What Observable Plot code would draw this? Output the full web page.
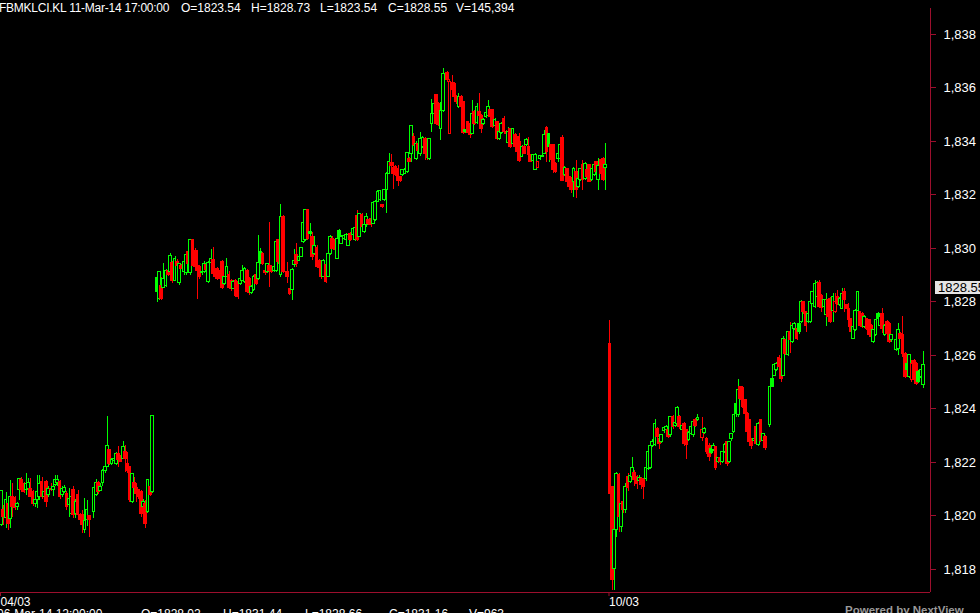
<!DOCTYPE html>
<html><head><meta charset="utf-8">
<script src="https://cdn.jsdelivr.net/npm/d3@7"></script>
<script src="https://cdn.jsdelivr.net/npm/@observablehq/plot@0.6"></script>
<style>
html,body{margin:0;padding:0;background:#000;overflow:hidden;}
#wrap{position:relative;width:980px;height:613px;overflow:hidden;background:#000;font-family:"Liberation Sans",Arial,sans-serif;}
.t{position:absolute;color:#fff;font-size:12px;white-space:pre;line-height:14px;}
#wrap svg{position:absolute;left:0;top:0;}
</style></head><body><div id="wrap"></div>
<script>
// ---- data: 5-minute bars [open, high, low, close] ----
const barsSeg1 = [
[1819.65,1820.95,1819.60,1820.93],[1820.21,1820.40,1819.65,1819.96],[1819.94,1820.89,1819.52,1820.61],[1820.46,1820.58,1819.46,1819.71],
[1819.90,1821.33,1819.52,1820.71],[1820.71,1821.20,1819.96,1820.33],[1820.67,1820.71,1820.21,1820.30],[1820.33,1820.52,1820.21,1820.46],
[1820.98,1821.39,1820.58,1821.39],
[1821.33,1821.45,1820.89,1820.96],[1821.20,1821.27,1820.83,1820.89],[1820.96,1821.58,1820.77,1821.20],[1821.00,1821.40,1820.90,1821.22],
[1821.02,1821.39,1820.71,1820.71],[1820.89,1820.95,1820.35,1820.46],[1820.46,1820.60,1820.30,1820.58],[1820.58,1821.52,1820.27,1820.89],
[1820.71,1821.52,1820.58,1821.20],[1821.27,1821.45,1820.60,1820.71],[1820.71,1821.10,1820.64,1820.89],[1821.27,1821.33,1820.30,1820.52],
[1820.77,1821.10,1820.70,1821.02],[1821.02,1821.20,1820.90,1820.96],[1820.96,1821.33,1820.71,1821.08],[1821.14,1821.50,1821.10,1821.33],[1821.22,1821.52,1821.10,1821.36],
[1821.27,1821.33,1820.60,1820.71],[1820.77,1821.10,1820.70,1821.02],[1820.90,1821.15,1820.85,1821.05],[1820.83,1820.90,1820.20,1820.33],
[1820.40,1821.02,1819.96,1820.64],[1820.08,1820.75,1820.00,1820.71],[1820.98,1821.10,1819.90,1820.02],[1820.08,1820.60,1819.90,1820.52],
[1820.77,1820.95,1819.90,1820.02],[1820.02,1820.10,1819.75,1819.84],[1820.02,1820.21,1819.33,1819.65],[1819.46,1820.64,1819.33,1819.80],
[1819.84,1820.58,1819.59,1820.21],[1820.00,1820.00,1819.19,1819.84],[1819.63,1819.63,1819.63,1819.63],[1820.15,1821.08,1819.90,1821.05],
[1820.77,1821.36,1820.71,1821.23],[1821.23,1821.30,1820.80,1820.89],[1820.95,1821.20,1820.90,1821.10],[1821.23,1821.75,1821.10,1821.68],
[1821.70,1821.90,1821.60,1821.83],[1821.83,1823.72,1821.80,1822.60],[1822.45,1822.50,1821.90,1821.95],[1821.95,1822.15,1821.90,1822.08],
[1822.05,1822.20,1822.00,1822.14],[1821.95,1822.36,1821.90,1822.33],[1822.33,1822.58,1821.83,1822.08],[1822.20,1822.25,1822.00,1822.02],
[1822.14,1822.79,1822.10,1822.58],[1822.39,1822.64,1821.64,1822.14],[1821.93,1822.39,1821.58,1821.70],[1821.83,1821.85,1820.50,1820.58],
[1820.52,1821.60,1820.45,1821.58],[1821.23,1821.45,1821.00,1821.05],[1821.05,1821.20,1820.50,1820.83],[1820.96,1821.00,1820.60,1820.71],
[1820.89,1820.95,1819.96,1820.08],[1820.35,1820.60,1820.30,1820.52],[1820.46,1820.58,1819.52,1819.71],[1820.15,1821.36,1820.10,1821.33],
[1821.08,1821.58,1820.71,1820.77],[1820.89,1823.75,1820.85,1823.72],[1826.45,1826.45,1826.45,1826.45]
];
const barsSeg2a = [
[1828.90,1828.92,1827.99,1828.36],[1828.11,1829.15,1828.05,1829.11],[1828.61,1828.92,1828.05,1828.11],[1828.53,1829.42,1828.50,1828.86],
[1828.61,1829.20,1828.55,1829.15],[1829.15,1829.30,1828.95,1829.02],[1829.11,1829.80,1829.05,1829.73],[1829.45,1829.50,1828.70,1828.80],[1828.80,1829.70,1828.75,1829.61],
[1829.48,1829.60,1829.30,1829.36],[1828.70,1829.45,1828.60,1829.42],[1829.36,1829.40,1829.20,1829.24],[1829.11,1829.55,1829.00,1829.48],
[1829.07,1829.80,1829.00,1829.77],[1829.86,1830.00,1829.40,1829.42],[1829.07,1830.32,1829.00,1830.30],[1830.30,1830.32,1829.30,1829.36],
[1829.92,1830.00,1829.20,1829.30],[1829.36,1829.92,1828.11,1829.17],[1829.30,1829.35,1828.85,1828.92],[1829.07,1829.20,1829.00,1829.11],
[1829.11,1829.50,1829.05,1829.42],[1829.40,1829.48,1829.10,1829.20],[1828.74,1829.50,1828.70,1829.45],[1829.45,1829.95,1829.40,1829.61],[1829.57,1830.05,1829.00,1829.05],
[1829.11,1829.15,1828.85,1828.92],[1829.24,1829.30,1828.80,1828.86],[1829.14,1829.20,1828.70,1828.84],[1829.48,1829.55,1828.45,1828.53],
[1828.67,1828.95,1828.60,1828.92],[1828.92,1829.61,1828.90,1829.32],[1828.99,1829.15,1828.45,1828.53],[1828.80,1828.85,1828.40,1828.49],
[1828.49,1828.80,1828.45,1828.74],[1828.80,1828.85,1828.15,1828.24],[1828.74,1828.80,1828.10,1828.20],[1828.67,1828.90,1828.60,1828.86],
[1828.80,1829.36,1828.75,1829.17],[1828.74,1829.30,1828.70,1829.24],[1829.17,1829.20,1828.30,1828.36],[1828.86,1828.90,1828.25,1828.32],
[1828.32,1828.60,1828.28,1828.55],
[1828.43,1829.00,1828.40,1828.92],[1828.99,1829.05,1828.60,1828.67],[1828.86,1830.48,1828.80,1829.45],[1829.86,1830.00,1829.40,1829.48],
[1829.80,1829.85,1829.35,1829.42],[1829.17,1829.20,1829.00,1829.07],[1829.11,1829.45,1829.05,1829.42],[1829.36,1830.98,1828.55,1829.17],
[1829.30,1829.35,1829.05,1829.11],[1829.15,1829.35,1829.10,1829.30],[1829.17,1830.30,1829.10,1830.23],[1830.30,1830.35,1829.40,1829.48],
[1828.99,1831.64,1828.90,1831.19],[1831.19,1831.25,1829.05,1829.11],[1829.08,1829.08,1829.08,1829.08]
];
const barsSeg2b = [
[1829.12,1829.49,1828.68,1828.93],[1828.47,1828.50,1828.25,1828.31],[1828.43,1829.25,1828.06,1829.20],[1829.37,1829.95,1829.30,1829.55],
[1829.74,1830.18,1829.30,1829.43],[1829.55,1829.70,1829.50,1829.68],[1829.68,1830.05,1829.65,1830.03],[1830.24,1831.00,1830.20,1830.96],
[1830.30,1831.45,1830.25,1831.42],[1831.45,1831.47,1830.30,1830.36],[1830.61,1830.92,1830.36,1830.55],[1830.43,1830.61,1829.55,1829.68],
[1829.80,1830.43,1829.75,1830.11],[1830.03,1830.10,1829.25,1829.30],[1829.55,1829.60,1829.20,1829.28],[1829.37,1829.40,1828.85,1828.93],
[1828.95,1829.60,1828.90,1829.55],[1829.37,1829.40,1828.68,1828.74],[1828.93,1829.85,1828.90,1829.80],[1829.80,1830.50,1829.75,1830.43],
[1830.36,1830.45,1829.95,1829.99],[1830.30,1830.35,1829.90,1829.93],[1829.62,1830.40,1829.60,1830.36],[1830.67,1830.70,1830.35,1830.40],
[1830.18,1830.48,1830.15,1830.43],[1830.36,1830.52,1830.30,1830.48],[1830.30,1830.55,1830.25,1830.50],[1830.11,1830.55,1830.08,1830.52],
[1830.55,1830.60,1830.25,1830.30],[1830.49,1830.80,1830.45,1830.74],[1830.30,1830.80,1830.25,1830.77],[1831.20,1831.42,1830.25,1830.30],
[1830.43,1831.30,1830.40,1831.27],[1831.24,1831.30,1830.75,1830.80],[1830.61,1830.90,1830.55,1830.86],[1830.86,1831.30,1830.80,1831.17],
[1831.05,1831.10,1830.85,1830.92],[1831.11,1831.20,1830.80,1830.86],[1830.92,1831.75,1830.90,1831.70],[1831.05,1831.78,1831.00,1831.73],
[1831.73,1832.15,1831.70,1832.11],[1831.80,1832.18,1831.75,1832.14],[1831.61,1831.65,1831.50,1831.55],[1831.80,1832.20,1831.75,1832.17],
[1832.17,1832.85,1831.30,1832.79],[1832.79,1833.56,1832.75,1833.23],[1833.19,1833.50,1833.00,1833.07],[1833.00,1833.20,1832.20,1832.79],
[1833.04,1833.10,1832.70,1832.75],[1832.98,1833.10,1832.30,1832.54],[1832.67,1832.70,1832.45,1832.52],[1832.73,1832.95,1832.70,1832.92],
[1832.80,1833.00,1832.75,1832.95],[1832.85,1833.60,1832.80,1833.56],[1833.35,1833.40,1833.20,1833.23],[1833.54,1834.60,1833.20,1834.56]
];
const barsSeg2c = [
[1834.16,1834.30,1833.80,1833.85],[1833.35,1834.00,1833.29,1833.90],[1833.90,1834.05,1833.60,1833.66],[1833.54,1834.35,1833.42,1834.10],[1833.79,1834.20,1833.75,1834.12],
[1834.10,1834.15,1833.30,1833.54],[1833.54,1833.70,1833.28,1833.40],[1833.35,1834.10,1833.30,1834.08],[1834.66,1835.56,1834.35,1835.04],[1835.04,1835.45,1835.00,1835.41],
[1835.72,1835.75,1834.60,1834.66],[1835.41,1835.45,1834.55,1834.62],[1834.48,1835.47,1834.04,1835.12],[1835.12,1836.72,1835.10,1836.53],
[1836.58,1836.58,1836.58,1836.58],[1836.55,1836.60,1836.20,1836.30],[1834.29,1836.30,1834.25,1836.24],[1836.18,1836.47,1835.85,1835.91],[1836.16,1836.20,1835.60,1835.68],
[1835.62,1835.70,1835.40,1835.47],[1835.29,1835.78,1835.25,1835.66],[1835.66,1835.70,1835.25,1835.29],[1835.47,1835.50,1834.25,1834.31],
[1834.41,1834.45,1834.30,1834.35],[1834.72,1834.75,1834.30,1834.33],[1834.66,1834.70,1834.10,1834.23],[1834.29,1835.53,1834.25,1835.01],
[1835.10,1835.15,1834.60,1834.66],[1834.68,1835.41,1834.65,1835.29],[1835.10,1835.78,1834.72,1834.97],[1834.97,1835.00,1834.30,1834.48],
[1834.66,1834.85,1834.60,1834.81],[1834.91,1835.10,1834.85,1835.06],[1834.97,1835.53,1834.90,1835.29],[1835.16,1835.20,1834.85,1834.91],
[1835.16,1835.20,1834.50,1834.54],[1834.56,1834.85,1834.50,1834.79],[1834.72,1834.75,1834.05,1834.10],[1834.10,1834.40,1834.05,1834.35],
[1834.31,1834.70,1834.25,1834.66]
];
const barsSeg2d = [
[1834.85,1834.94,1834.30,1834.35],[1834.35,1834.40,1834.25,1834.29],[1833.94,1834.51,1833.90,1834.35],[1834.47,1834.50,1833.75,1833.79],
[1833.91,1834.50,1833.85,1834.47],[1834.23,1834.30,1833.75,1833.79],[1834.16,1834.20,1833.55,1833.60],[1833.98,1834.29,1833.20,1833.27],
[1833.42,1833.85,1833.40,1833.79],[1833.81,1833.85,1833.50,1833.54],[1833.85,1834.10,1833.80,1834.04],[1833.79,1834.16,1833.23,1833.48],
[1833.48,1833.50,1833.20,1833.23],[1833.27,1833.52,1833.25,1833.48],[1832.92,1833.55,1832.90,1833.50],[1833.02,1833.25,1833.00,1833.23],
[1833.35,1833.48,1833.30,1833.44],[1833.42,1833.50,1833.40,1833.46],[1833.54,1834.41,1833.50,1834.25],[1834.51,1834.55,1833.23,1833.60],
[1834.29,1834.30,1833.23,1833.81],[1833.85,1833.90,1833.25,1833.29],[1833.85,1833.90,1832.79,1832.92],[1833.17,1833.20,1832.80,1832.86],
[1833.35,1833.85,1833.23,1833.54],[1833.35,1833.90,1833.30,1833.88],[1834.14,1834.23,1832.50,1832.52],[1832.73,1833.05,1832.70,1833.02],
[1832.98,1833.00,1832.45,1832.48],[1832.67,1832.70,1832.25,1832.29],[1832.61,1832.65,1832.05,1832.17],[1832.48,1833.04,1831.92,1832.98],
[1832.86,1833.29,1831.86,1832.17],[1832.29,1832.65,1832.25,1832.61],[1832.55,1833.00,1832.50,1832.98],[1833.11,1833.29,1832.17,1832.55],
[1832.61,1833.20,1832.55,1833.17],[1832.92,1832.95,1832.60,1832.67],[1833.11,1833.15,1832.45,1832.48],[1832.55,1833.00,1832.50,1832.98],
[1832.73,1833.15,1832.70,1833.11],[1833.23,1833.25,1832.80,1832.86],[1832.57,1833.35,1832.17,1833.07],[1833.29,1833.30,1832.75,1832.79],
[1833.35,1833.40,1832.50,1832.55],[1833.02,1833.91,1832.17,1833.11],[1832.27,1832.27,1832.27,1832.27]
];
const barsSeg3a = [
[1826.44,1827.31,1820.80,1820.83],[1821.07,1821.10,1817.20,1817.59],[1818.03,1819.50,1817.20,1819.46],[1819.46,1821.62,1819.20,1821.58],
[1821.54,1821.60,1819.40,1819.96],[1819.58,1820.50,1819.40,1820.45],[1820.52,1820.60,1820.10,1820.21],[1820.21,1821.20,1820.10,1821.10],
[1821.45,1821.60,1820.90,1821.05],[1821.26,1821.55,1821.20,1821.49],[1821.45,1822.17,1821.40,1821.80],[1821.60,1821.70,1821.10,1821.33],
[1821.45,1821.50,1821.00,1821.20],[1821.30,1821.50,1821.25,1821.43],[1821.38,1821.45,1821.00,1821.14],[1821.38,1821.42,1820.60,1821.10],
[1821.38,1821.85,1821.30,1821.80],[1821.76,1822.45,1821.70,1822.38],[1821.80,1822.65,1821.75,1822.60],[1822.60,1822.85,1822.55,1822.76],
[1822.67,1823.60,1822.60,1823.42],[1823.26,1823.30,1822.70,1822.95],[1822.88,1822.92,1822.50,1822.70],[1822.76,1823.05,1822.70,1823.01],
[1823.17,1823.35,1823.10,1823.30],[1823.20,1823.40,1823.15,1823.32],[1823.20,1823.25,1822.90,1822.95],[1823.01,1823.72,1822.95,1823.69],
[1823.69,1823.75,1823.25,1823.32],[1823.35,1823.55,1823.30,1823.47],[1823.45,1824.10,1823.40,1824.04],[1823.69,1823.75,1823.25,1823.32],
[1823.20,1823.40,1823.15,1823.36],[1823.45,1823.50,1822.60,1822.70],[1823.20,1823.25,1822.10,1822.67],[1822.85,1823.15,1822.80,1823.10],
[1823.07,1823.40,1823.00,1823.32],[1823.01,1823.55,1822.95,1823.51],[1823.60,1823.65,1823.30,1823.35],[1823.60,1823.80,1823.55,1823.67],
[1823.32,1823.32,1823.32,1823.32],[1822.92,1823.70,1822.80,1823.22],[1823.10,1823.30,1823.05,1823.26],[1822.88,1822.95,1822.30,1822.38],
[1822.63,1822.70,1822.05,1822.20],[1822.49,1822.55,1822.30,1822.35],[1822.45,1822.70,1822.40,1822.63],[1822.57,1822.60,1821.70,1821.80],
[1822.01,1822.20,1821.95,1822.17],[1822.17,1822.25,1821.90,1822.00],[1822.01,1822.42,1821.95,1822.38],[1822.38,1822.72,1822.35,1822.67],[1822.76,1822.80,1821.85,1821.95],
[1822.02,1822.80,1821.98,1822.76],
[1822.89,1823.10,1822.80,1823.07],[1823.14,1823.80,1823.10,1823.76],[1824.19,1824.20,1823.70,1823.80],[1823.76,1825.09,1823.70,1824.72],
[1824.82,1824.85,1824.30,1824.38],[1824.79,1824.84,1824.00,1824.07],[1824.32,1824.35,1823.75,1823.82],[1823.82,1823.85,1823.10,1823.14],
[1823.57,1823.60,1822.60,1822.76],[1822.76,1822.90,1822.50,1822.60],[1822.82,1822.95,1822.75,1822.89],[1823.32,1823.35,1822.65,1822.70],[1822.64,1823.50,1822.60,1823.45],
[1823.57,1823.60,1822.75,1822.82],[1822.82,1823.10,1822.78,1823.05],[1822.95,1823.00,1822.45,1822.55],[1822.20,1822.20,1822.20,1822.20]
];
const barsSeg3b = [
[1823.40,1824.85,1823.30,1824.82],[1825.13,1825.20,1824.80,1824.84],[1825.25,1825.66,1825.20,1825.63],[1825.44,1825.75,1825.40,1825.69],
[1825.91,1826.00,1825.40,1825.57],[1825.88,1825.92,1825.00,1825.13],[1825.25,1826.70,1825.20,1826.63],[1826.56,1826.60,1826.00,1826.06],
[1826.00,1826.90,1825.95,1826.87],[1826.87,1827.25,1826.06,1826.56],[1826.50,1827.15,1826.45,1827.12],[1827.00,1827.25,1826.95,1827.19],
[1827.00,1827.05,1826.55,1826.63],[1827.19,1827.22,1826.80,1826.87],
[1827.25,1828.06,1827.20,1827.99],[1827.99,1828.02,1827.55,1827.62],[1827.62,1827.65,1826.87,1827.12],[1827.25,1827.60,1827.20,1827.56],
[1827.25,1828.02,1827.20,1827.99],[1827.93,1828.40,1827.90,1828.37],[1827.81,1828.80,1827.74,1828.68],[1828.18,1828.75,1828.15,1828.71],
[1828.71,1828.80,1827.75,1827.81],[1828.24,1828.28,1827.62,1827.78],[1827.81,1828.10,1827.78,1828.06],[1827.50,1828.31,1827.10,1828.08],
[1828.06,1828.10,1827.40,1827.44],[1828.12,1828.15,1827.20,1827.25],[1827.68,1828.31,1827.25,1828.18],[1827.62,1828.31,1827.58,1827.99],
[1828.18,1828.43,1827.87,1827.93],[1827.87,1828.15,1827.84,1828.12],[1827.74,1828.49,1827.70,1828.31],
[1828.37,1828.49,1827.62,1828.06],[1827.87,1827.92,1827.70,1827.74],[1827.74,1827.93,1827.06,1827.31],
[1827.37,1827.40,1826.80,1826.87],[1826.63,1827.10,1826.60,1827.06],[1826.94,1827.72,1826.90,1827.68],[1827.68,1828.40,1827.65,1828.37],
[1827.62,1827.65,1827.05,1827.12],[1827.56,1827.60,1827.00,1827.06],[1827.06,1827.48,1827.02,1827.44],[1827.37,1827.40,1826.95,1827.00],
[1827.31,1827.35,1826.70,1826.75],[1827.12,1827.15,1826.56,1826.69],[1826.50,1826.98,1826.45,1826.94],[1826.75,1827.35,1826.70,1827.31],
[1827.56,1827.60,1827.30,1827.37],[1827.12,1827.48,1827.08,1827.44],[1827.56,1827.74,1826.81,1827.00],
[1826.75,1827.15,1826.70,1827.12],[1827.25,1827.30,1826.75,1826.81],[1827.19,1827.22,1826.45,1826.50],[1826.56,1826.80,1826.50,1826.75],
[1826.13,1826.13,1826.13,1826.13],[1826.19,1826.60,1826.15,1826.56],[1826.25,1827.19,1826.00,1826.94],[1826.81,1826.85,1826.60,1826.63],
[1826.75,1827.44,1825.94,1826.06],[1826.06,1826.10,1825.15,1825.19],[1825.69,1825.72,1825.40,1825.44],[1825.19,1826.05,1825.15,1826.00],
[1825.07,1825.81,1825.00,1825.69],[1825.81,1825.85,1824.95,1825.07],[1825.69,1825.72,1824.88,1824.94],[1825.38,1825.42,1824.95,1825.00],
[1825.19,1825.48,1825.15,1825.44],[1824.88,1826.13,1824.76,1825.63],[1828.55,1828.55,1828.55,1828.55]
];
const dateLabels = ["04/03", "10/03"];
const yTicks = [1818, 1820, 1822, 1824, 1826, 1828, 1830, 1832, 1834, 1836, 1838];
const headerTitle = "FBMKLCI.KL 11-Mar-14 17:00:00";
const headerFields = ["O=1823.54", "H=1828.73", "L=1823.54", "C=1828.55", "V=145,394"];
const hoverTitle = "06-Mar-14 12:00:00";
const hoverFields = ["O=1828.02", "H=1831.44", "L=1828.66", "C=1831.16", "V=963"];
const lastPrice = 1828.55;

// ---- build ----
const GREEN = "#00ff00", RED = "#ff0000", AXIS = "#9c0f2d";
const segs = [barsSeg1, barsSeg2a, barsSeg2b, barsSeg2c, barsSeg2d, barsSeg3a, barsSeg3b];
const rows = segs.flat();
const candles = rows.map(([o, h, l, c], i) => ({i, open: o, close: c, high: Math.max(h, o, c), low: Math.min(l, o, c)}));
candles.forEach((d, i) => {
  const prev = i ? candles[i - 1].close : d.open;
  d.color = d.close >= prev ? GREEN : RED;
  d.fill = d.close < d.open ? d.color : "#000";
});
const n = candles.length;
const seg3Start = barsSeg1.length + barsSeg2a.length + barsSeg2b.length + barsSeg2c.length + barsSeg2d.length;
const dateBars = [0, seg3Start];
const labelOf = new Map(dateBars.map((b, k) => [b, dateLabels[k]]));

const step = 924 / (n - 1);
const xMin = -1 / step, xMax = xMin + 930 / step;

const chart = Plot.plot({
  width: 980, height: 613,
  marginTop: 8, marginBottom: 21, marginLeft: 0, marginRight: 50,
  style: {background: "#000", color: "#fff", fontFamily: "Liberation Sans, Arial, sans-serif", fontSize: "12px", overflow: "visible"},
  x: {domain: [xMin, xMax], axis: null, label: null},
  y: {domain: [1817.14, 1838.97], axis: null, label: null},
  marks: [
    Plot.ruleX(candles, {x: "i", y1: "low", y2: "high", stroke: "color", strokeWidth: 1, shapeRendering: "crispEdges"}),
    Plot.rect(candles, {x1: d => d.i - 0.6, x2: d => d.i + 0.6, y1: "open", y2: "close", fill: "fill", stroke: "color", strokeWidth: 1, shapeRendering: "crispEdges"}),
    Plot.ruleX([xMax], {stroke: AXIS, strokeWidth: 1.5, shapeRendering: "crispEdges"}),
    Plot.ruleY([1817.14], {stroke: AXIS, strokeWidth: 1.5, shapeRendering: "crispEdges"}),
    Plot.axisY({anchor: "right", ticks: yTicks, tickFormat: d3.format(","), label: null, stroke: AXIS, fill: "#fff", tickSize: 5, tickPadding: 8, fontSize: 13, shapeRendering: "crispEdges"}),
    Plot.axisX({anchor: "bottom", ticks: dateBars, tickFormat: d => labelOf.get(d), label: null, stroke: AXIS, fill: "#fff", tickSize: 4, tickPadding: 1, textAnchor: "start", dx: -1, fontSize: 12})
  ]
});
const wrap = document.getElementById("wrap");
wrap.appendChild(chart);

// last price tag on the axis
const yLast = Math.round(chart.scale("y").apply(lastPrice));
const svg = d3.select(chart);
const g = svg.append("g").attr("text-anchor", "start");
g.append("rect").attr("x", 935).attr("y", yLast - 6).attr("width", 60).attr("height", 13).attr("fill", "#e4e4e4");
g.append("text").attr("x", 938).attr("y", yLast + 5).attr("fill", "#000").attr("text-anchor", "start")
  .attr("font-size", 13).attr("font-family", "Liberation Sans, Arial, sans-serif").text(String(lastPrice));

// header and footer texts
function addText(str, left, top, extra) {
  const el = document.createElement("div");
  el.className = "t";
  el.textContent = str;
  el.style.left = left + "px";
  el.style.top = top + "px";
  if (extra) Object.assign(el.style, extra);
  wrap.appendChild(el);
}
const headerX = [181, 251, 320, 388, 456];
addText(headerTitle, -1, 1, {letterSpacing: "-0.25px"});
headerFields.forEach((s, k) => addText(s, headerX[k], 1));
const hoverX = [141, 223, 305, 389, 469];
addText(hoverTitle, -3, 607);
hoverFields.forEach((s, k) => addText(s, hoverX[k], 607));
addText("Powered by NextView", 845, 603, {color: "#9a9a9a", fontWeight: "bold", fontSize: "11.5px"});
</script></body></html>
